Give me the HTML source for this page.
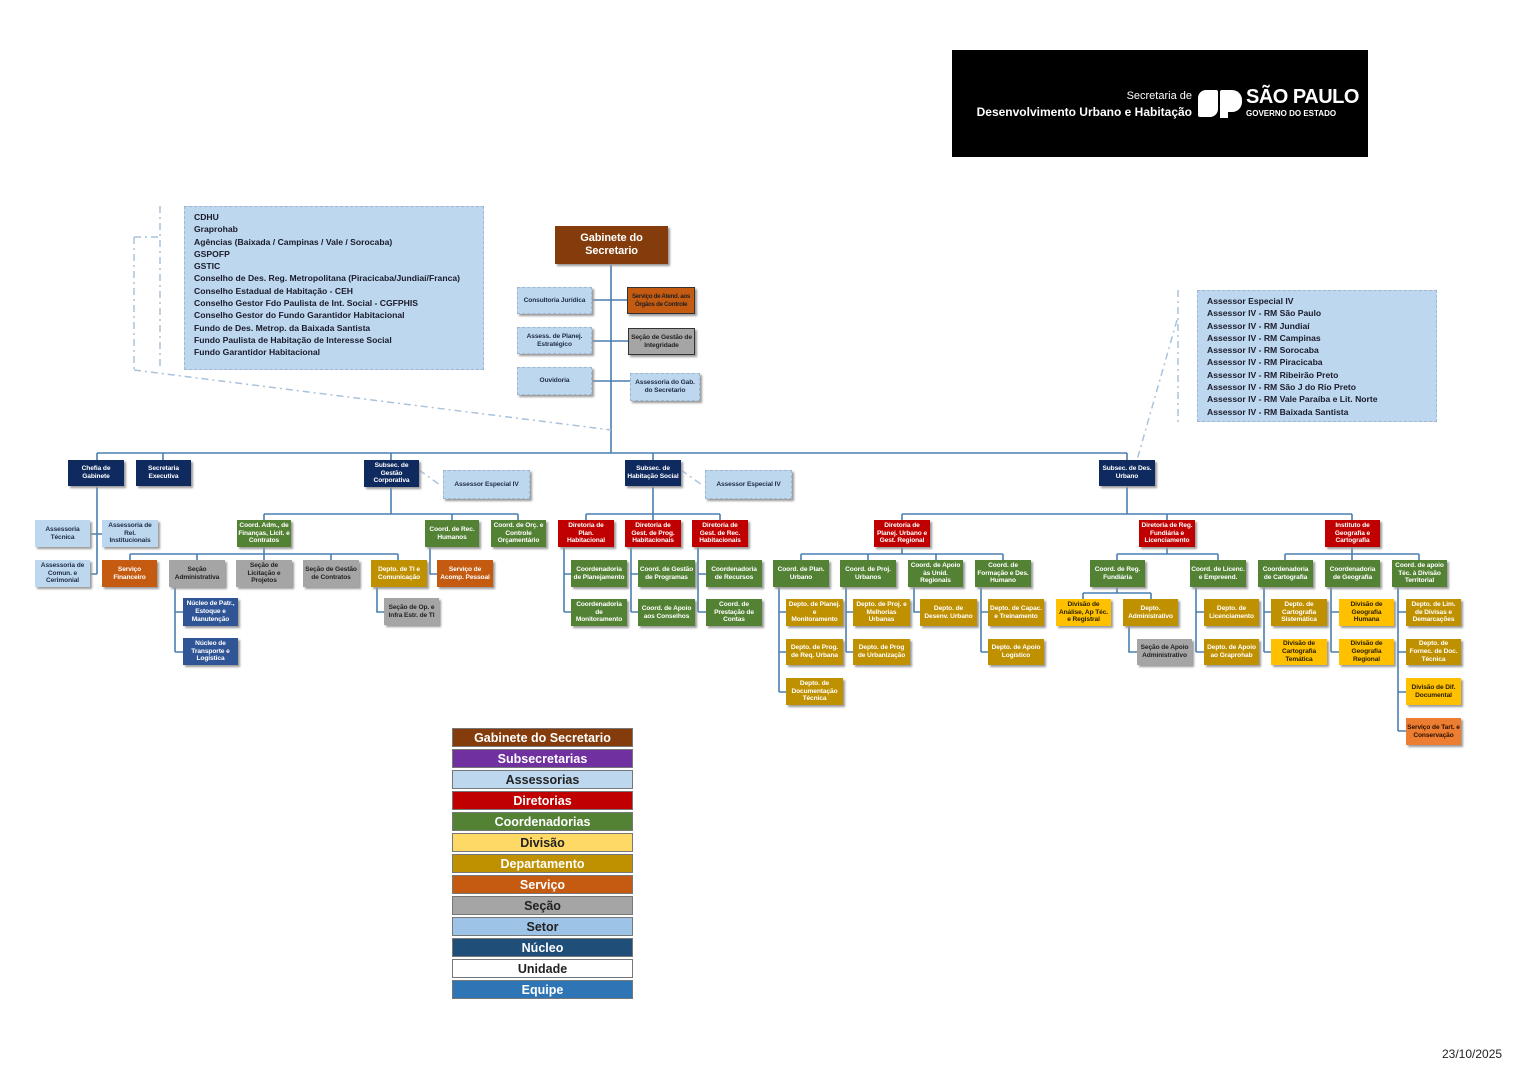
<!DOCTYPE html>
<html><head><meta charset="utf-8">
<style>
*{margin:0;padding:0;box-sizing:border-box}
body{width:1528px;height:1080px;background:#fff;position:relative;overflow:hidden;font-family:"Liberation Sans",sans-serif}
.b{position:absolute;display:flex;align-items:center;justify-content:center;text-align:center;font-weight:bold;font-size:6.6px;line-height:1.2;color:#fff;box-shadow:2px 2px 2px #9a9a9a;padding:0 1px;letter-spacing:-0.1px}
.n{background:#0f2a5e}.a{background:#bdd7ee;color:#1f2d44;border:1px dashed #9fb8d0}.g{background:#548235}.r{background:#c00000}
.d{background:#bf9000}.y{background:#ffc000;color:#2a2000}.s{background:#c55a11}.o{background:#ed7d31}.gr{background:#a5a5a5;color:#222}.nu{background:#2f5597}
.lg{position:absolute;left:452px;width:181px;height:19px;display:flex;align-items:center;justify-content:center;font-weight:bold;font-size:12.5px;color:#fff;border:1px solid #777}
.list{position:absolute;background:#bdd7ee;border:1px dashed #9fb8d0;font-weight:bold;font-size:8.6px;line-height:12.3px;color:#1a1a2a;padding:4px 9px}
svg{position:absolute;left:0;top:0}
</style></head><body>
<svg width="1528" height="1080">
<g stroke="#4a7eb0" stroke-width="1.6" fill="none">
<path d="M611 264V453M592 300H627M592 341H628M592 381H630"/>
<path d="M97 453H1127M97 453V460M163 453V460M391 453V460M653 453V460M1127 453V460"/>
<path d="M97 486V574M90 534H102M90 574H97"/>
<path d="M391 487V514M264 514H518M264 514V520M452 514V520M518 514V520"/>
<path d="M264 547V554M130 554H398M130 554V560M197 554V560M264 554V560M331 554V560M398 554V560"/>
<path d="M175 587V652M175 612H183M175 652H183M377 587V612H384M430 547V574H437"/>
<path d="M653 486V514M586 514H720M586 514V520M653 514V520M720 514V520"/>
<path d="M564 547V612M564 574H571M564 612H571M631 547V612M631 574H638M631 612H638M698 547V612M698 574H706M698 612H706"/>
<path d="M1127 486V514M902 514H1352M902 514V520M1167 514V520M1352 514V520"/>
<path d="M902 547V554M801 554H1003M801 554V560M868 554V560M936 554V560M1003 554V560"/>
<path d="M779 587V692M779 612H786M779 652H786M779 692H786M846 587V652M846 612H853M846 652H853M914 587V612H920M981 587V652M981 612H988M981 652H988"/>
<path d="M1167 547V554M1117 554H1218M1117 554V560M1218 554V560"/>
<path d="M1117 587V593M1083 593H1151M1083 593V599M1151 593V599M1129 626V652H1137M1196 587V652M1196 612H1204M1196 652H1204"/>
<path d="M1352 547V554M1285 554H1419M1285 554V560M1352 554V560M1419 554V560"/>
<path d="M1264 587V652M1264 612H1271M1264 652H1271M1331 587V652M1331 612H1339M1331 652H1339M1398 587V731M1398 612H1406M1398 652H1406M1398 692H1406M1398 731H1406"/>
</g>
<g stroke="#a9c3dc" stroke-width="1.5" fill="none" stroke-dasharray="7,4,2,4">
<path d="M160 206V370M134 237H160M134 237V370M134 370L611 430"/>
<path d="M1178 290V422M1177 320L1137 460"/>
<path d="M419 470L440 485M681 470L702 485"/>
</g>
</svg>

<div style="position:absolute;left:952px;top:50px;width:416px;height:107px;background:#000;color:#fff">
<div style="position:absolute;right:176px;top:40px;font-size:11px;text-align:right">Secretaria de</div>
<div style="position:absolute;right:176px;top:55px;font-size:12px;font-weight:bold;text-align:right;white-space:nowrap">Desenvolvimento Urbano e Habitação</div>
<div style="position:absolute;left:246px;top:40px;width:20px;height:27px;background:#fff;border-radius:8px 2px 8px 2px"></div>
<div style="position:absolute;left:268px;top:40px;width:22px;height:22px;background:#fff;border-radius:2px 10px 10px 0"></div>
<div style="position:absolute;left:268px;top:60px;width:8px;height:8px;background:#fff"></div>
<div style="position:absolute;left:294px;top:36px;font-size:20px;font-weight:bold;letter-spacing:-0.5px">SÃO PAULO</div>
<div style="position:absolute;left:294px;top:59px;font-size:8px;font-weight:bold">GOVERNO DO ESTADO</div>
</div>

<div class="list" style="left:184px;top:206px;width:300px;height:164px">CDHU<br>Graprohab<br>Agências (Baixada / Campinas / Vale / Sorocaba)<br>GSPOFP<br>GSTIC<br>Conselho de Des. Reg. Metropolitana (Piracicaba/Jundiaí/Franca)<br>Conselho Estadual de Habitação - CEH<br>Conselho Gestor Fdo Paulista de Int. Social - CGFPHIS<br>Conselho Gestor do Fundo Garantidor Habitacional<br>Fundo de Des. Metrop. da Baixada Santista<br>Fundo Paulista de Habitação de Interesse Social<br>Fundo Garantidor Habitacional</div>
<div class="list" style="left:1197px;top:290px;width:240px;height:132px">Assessor Especial IV<br>Assessor IV - RM São Paulo<br>Assessor IV - RM Jundiaí<br>Assessor IV - RM Campinas<br>Assessor IV - RM Sorocaba<br>Assessor IV - RM Piracicaba<br>Assessor IV - RM Ribeirão Preto<br>Assessor IV - RM São J do Rio Preto<br>Assessor IV - RM Vale Paraíba e Lit. Norte<br>Assessor IV - RM Baixada Santista</div>

<div class="b" style="left:555px;top:226px;width:113px;height:38px;background:#843c0c;font-size:11px">Gabinete do<br>Secretario</div>
<div class="b a" style="left:517px;top:287px;width:75px;height:27px">Consultoria Jurídica</div>
<div class="b a" style="left:517px;top:327px;width:75px;height:27px">Assess. de Planej.<br>Estratégico</div>
<div class="b a" style="left:517px;top:367px;width:75px;height:28px">Ouvidoria</div>
<div class="b s" style="left:627px;top:287px;width:68px;height:27px;border:1px solid #333;color:#222;font-size:6.2px;letter-spacing:-0.3px">Serviço de Atend. aos<br>Órgãos de Controle</div>
<div class="b gr" style="left:628px;top:328px;width:67px;height:27px;border:1px solid #333">Seção de Gestão de Integridade</div>
<div class="b a" style="left:630px;top:373px;width:70px;height:28px">Assessoria do Gab.<br>do Secretario</div>

<div class="b n" style="left:68px;top:460px;width:56px;height:26px">Chefia de<br>Gabinete</div>
<div class="b n" style="left:136px;top:460px;width:55px;height:26px">Secretaria<br>Executiva</div>
<div class="b n" style="left:364px;top:460px;width:55px;height:27px">Subsec. de<br>Gestão<br>Corporativa</div>
<div class="b a" style="left:443px;top:470px;width:87px;height:29px">Assessor Especial IV</div>
<div class="b n" style="left:625px;top:460px;width:56px;height:26px">Subsec. de<br>Habitação Social</div>
<div class="b a" style="left:705px;top:470px;width:87px;height:29px">Assessor Especial IV</div>
<div class="b n" style="left:1099px;top:460px;width:56px;height:26px">Subsec. de Des.<br>Urbano</div>

<div class="b a" style="left:35px;top:520px;width:55px;height:27px;border:none">Assessoria<br>Técnica</div>
<div class="b a" style="left:102px;top:520px;width:56px;height:27px;border:none">Assessoria de<br>Rel.<br>Institucionais</div>
<div class="b a" style="left:35px;top:560px;width:55px;height:27px;border:none">Assessoria de<br>Comun. e<br>Cerimonial</div>

<div class="b g" style="left:237px;top:520px;width:54px;height:27px">Coord. Adm., de<br>Finanças, Licit. e<br>Contratos</div>
<div class="b g" style="left:425px;top:520px;width:54px;height:27px">Coord. de Rec.<br>Humanos</div>
<div class="b g" style="left:491px;top:520px;width:55px;height:27px">Coord. de Orç. e<br>Controle<br>Orçamentário</div>
<div class="b s" style="left:102px;top:560px;width:55px;height:27px">Serviço<br>Financeiro</div>
<div class="b gr" style="left:169px;top:560px;width:56px;height:27px">Seção<br>Administrativa</div>
<div class="b gr" style="left:236px;top:560px;width:56px;height:27px">Seção de<br>Licitação e<br>Projetos</div>
<div class="b gr" style="left:303px;top:560px;width:56px;height:27px">Seção de Gestão<br>de Contratos</div>
<div class="b d" style="left:371px;top:560px;width:56px;height:27px">Depto. de TI e<br>Comunicação</div>
<div class="b s" style="left:437px;top:560px;width:56px;height:27px">Serviço de<br>Acomp. Pessoal</div>
<div class="b nu" style="left:183px;top:598px;width:55px;height:28px">Núcleo de Patr.,<br>Estoque e<br>Manutenção</div>
<div class="b nu" style="left:183px;top:638px;width:55px;height:27px">Núcleo de<br>Transporte e<br>Logística</div>
<div class="b gr" style="left:384px;top:598px;width:55px;height:27px">Seção de Op. e<br>Infra Estr. de TI</div>

<div class="b r" style="left:558px;top:520px;width:56px;height:27px">Diretoria de<br>Plan.<br>Habitacional</div>
<div class="b r" style="left:625px;top:520px;width:56px;height:27px">Diretoria de<br>Gest. de Prog.<br>Habitacionais</div>
<div class="b r" style="left:692px;top:520px;width:56px;height:27px">Diretoria de<br>Gest. de Rec.<br>Habitacionais</div>
<div class="b g" style="left:571px;top:560px;width:56px;height:27px">Coordenadoria<br>de Planejamento</div>
<div class="b g" style="left:571px;top:599px;width:56px;height:27px">Coordenadoria<br>de<br>Monitoramento</div>
<div class="b g" style="left:638px;top:560px;width:57px;height:27px">Coord. de Gestão<br>de Programas</div>
<div class="b g" style="left:638px;top:599px;width:57px;height:27px">Coord. de Apoio<br>aos Conselhos</div>
<div class="b g" style="left:706px;top:560px;width:56px;height:27px">Coordenadoria<br>de Recursos</div>
<div class="b g" style="left:706px;top:599px;width:56px;height:27px">Coord. de<br>Prestação de<br>Contas</div>

<div class="b r" style="left:874px;top:520px;width:56px;height:27px">Diretoria de<br>Planej. Urbano e<br>Gest. Regional</div>
<div class="b g" style="left:773px;top:560px;width:56px;height:27px">Coord. de Plan.<br>Urbano</div>
<div class="b g" style="left:840px;top:560px;width:56px;height:27px">Coord. de Proj.<br>Urbanos</div>
<div class="b g" style="left:908px;top:560px;width:55px;height:27px">Coord. de Apoio<br>às Unid.<br>Regionais</div>
<div class="b g" style="left:975px;top:560px;width:56px;height:27px">Coord. de<br>Formação e Des.<br>Humano</div>
<div class="b d" style="left:786px;top:599px;width:57px;height:27px">Depto. de Planej.<br>e<br>Monitoramento</div>
<div class="b d" style="left:786px;top:639px;width:57px;height:26px">Depto. de Prog.<br>de Req. Urbana</div>
<div class="b d" style="left:786px;top:678px;width:57px;height:27px">Depto. de<br>Documentação<br>Técnica</div>
<div class="b d" style="left:853px;top:599px;width:57px;height:27px">Depto. de Proj. e<br>Melhorias<br>Urbanas</div>
<div class="b d" style="left:853px;top:639px;width:57px;height:26px">Depto. de Prog<br>de Urbanização</div>
<div class="b d" style="left:920px;top:599px;width:57px;height:27px">Depto. de<br>Desenv. Urbano</div>
<div class="b d" style="left:988px;top:599px;width:56px;height:27px">Depto. de Capac.<br>e Treinamento</div>
<div class="b d" style="left:988px;top:639px;width:56px;height:26px">Depto. de Apoio<br>Logístico</div>

<div class="b r" style="left:1139px;top:520px;width:56px;height:27px">Diretoria de Reg.<br>Fundiária e<br>Licenciamento</div>
<div class="b g" style="left:1090px;top:560px;width:55px;height:27px">Coord. de Reg.<br>Fundiária</div>
<div class="b g" style="left:1190px;top:560px;width:56px;height:27px">Coord. de Licenc.<br>e Empreend.</div>
<div class="b y" style="left:1056px;top:599px;width:55px;height:27px">Divisão de<br>Análise, Ap Téc.<br>e Registral</div>
<div class="b d" style="left:1123px;top:599px;width:55px;height:27px">Depto.<br>Administrativo</div>
<div class="b gr" style="left:1137px;top:639px;width:55px;height:26px">Seção de Apoio<br>Administrativo</div>
<div class="b d" style="left:1204px;top:599px;width:55px;height:27px">Depto. de<br>Licenciamento</div>
<div class="b d" style="left:1204px;top:639px;width:55px;height:26px">Depto. de Apoio<br>ao Graprohab</div>

<div class="b r" style="left:1325px;top:520px;width:55px;height:27px">Instituto de<br>Geografia e<br>Cartografia</div>
<div class="b g" style="left:1258px;top:560px;width:55px;height:27px">Coordenadoria<br>de Cartografia</div>
<div class="b g" style="left:1325px;top:560px;width:55px;height:27px">Coordenadoria<br>de Geografia</div>
<div class="b g" style="left:1392px;top:560px;width:55px;height:27px">Coord. de apoio<br>Téc. à Divisão<br>Territorial</div>
<div class="b d" style="left:1271px;top:599px;width:56px;height:27px">Depto. de<br>Cartografia<br>Sistemática</div>
<div class="b y" style="left:1271px;top:639px;width:56px;height:26px">Divisão de<br>Cartografia<br>Temática</div>
<div class="b y" style="left:1339px;top:599px;width:55px;height:27px">Divisão de<br>Geografia<br>Humana</div>
<div class="b y" style="left:1339px;top:639px;width:55px;height:26px">Divisão de<br>Geografia<br>Regional</div>
<div class="b d" style="left:1406px;top:599px;width:55px;height:27px">Depto. de Lim.<br>de Divisas e<br>Demarcações</div>
<div class="b d" style="left:1406px;top:639px;width:55px;height:26px">Depto. de<br>Fornec. de Doc.<br>Técnica</div>
<div class="b y" style="left:1406px;top:678px;width:55px;height:27px">Divisão de Dif.<br>Documental</div>
<div class="b o" style="left:1406px;top:718px;width:55px;height:27px;color:#2a1000">Serviço de Tart. e<br>Conservação</div>

<div class="lg" style="top:728px;background:#843c0c">Gabinete do Secretario</div>
<div class="lg" style="top:749px;background:#7030a0">Subsecretarias</div>
<div class="lg" style="top:770px;background:#bdd7ee;color:#222">Assessorias</div>
<div class="lg" style="top:791px;background:#c00000">Diretorias</div>
<div class="lg" style="top:812px;background:#548235">Coordenadorias</div>
<div class="lg" style="top:833px;background:#ffd966;color:#222">Divisão</div>
<div class="lg" style="top:854px;background:#bf9000">Departamento</div>
<div class="lg" style="top:875px;background:#c55a11">Serviço</div>
<div class="lg" style="top:896px;background:#a5a5a5;color:#222">Seção</div>
<div class="lg" style="top:917px;background:#9dc3e6;color:#222">Setor</div>
<div class="lg" style="top:938px;background:#1f4e79">Núcleo</div>
<div class="lg" style="top:959px;background:#fff;color:#222">Unidade</div>
<div class="lg" style="top:980px;background:#2e75b6">Equipe</div>

<div style="position:absolute;left:1442px;top:1047px;font-size:12px;color:#222">23/10/2025</div>
</body></html>
